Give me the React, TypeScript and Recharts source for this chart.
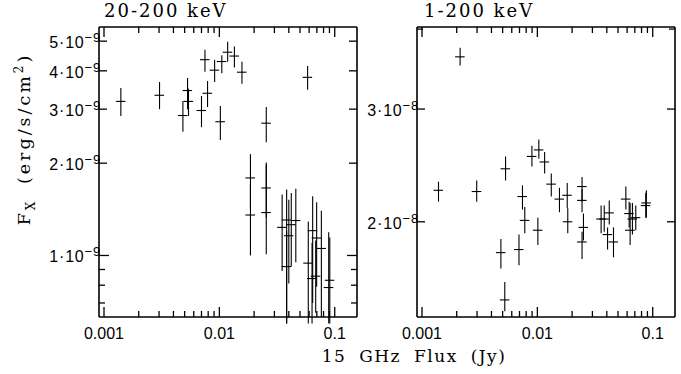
import React from 'react';
import { ScatterChart, Scatter, XAxis, YAxis, ErrorBar } from 'recharts';

// 15 GHz radio flux (Jy) vs 20-200 keV X-ray flux (erg/s/cm2)
const hardRadio = [0.0014, 0.00303, 0.00483, 0.0053, 0.0054, 0.007, 0.0075, 0.0079, 0.0091, 0.0102, 0.0105, 0.0118, 0.0135, 0.0157, 0.0255, 0.0582, 0.0186, 0.0186, 0.0255, 0.0255, 0.035, 0.0383, 0.0383, 0.04, 0.042, 0.046, 0.059, 0.0644, 0.0697, 0.0766, 0.0636, 0.0684, 0.0906, 0.0887];
const hardFx = [3.18e-9, 3.33e-9, 2.86e-9, 3.45e-9, 3.18e-9, 2.97e-9, 4.35e-9, 3.38e-9, 4.02e-9, 2.73e-9, 4.29e-9, 4.6e-9, 4.47e-9, 3.96e-9, 2.7e-9, 3.81e-9, 1.79e-9, 1.355e-9, 1.66e-9, 1.38e-9, 1.235e-9, 1.305e-9, 9.2e-10, 1.16e-9, 1.26e-9, 1.3e-9, 9.44e-10, 1.205e-9, 1.14e-9, 1.054e-9, 8.41e-10, 8.56e-10, 8.3e-10, 7.86e-10];
const hardFxLo = [2.85e-9, 3.0e-9, 2.53e-9, 3.0e-9, 2.85e-9, 2.62e-9, 3.97e-9, 3.05e-9, 3.68e-9, 2.38e-9, 3.93e-9, 4.28e-9, 4.1e-9, 3.63e-9, 2.34e-9, 3.47e-9, 1.44e-9, 1.0e-9, 1.33e-9, 1.01e-9, 8.9e-10, 6.0e-10, 6.0e-10, 8.1e-10, 9.2e-10, 9.5e-10, 6.0e-10, 7.0e-10, 7.9e-10, 6.3e-10, 6.0e-10, 6.5e-10, 6.0e-10, 6.0e-10];
const hardFxHi = [3.52e-9, 3.68e-9, 3.19e-9, 3.79e-9, 3.5e-9, 3.31e-9, 4.69e-9, 3.71e-9, 4.35e-9, 3.07e-9, 4.5e-9, 4.98e-9, 4.8e-9, 4.28e-9, 3.05e-9, 4.15e-9, 2.14e-9, 1.71e-9, 2.01e-9, 1.98e-9, 1.58e-9, 1.64e-9, 1.2e-9, 1.52e-9, 1.6e-9, 1.65e-9, 1.29e-9, 1.56e-9, 1.49e-9, 1.4e-9, 1.1e-9, 1.12e-9, 1.145e-9, 1.19e-9];

// 15 GHz radio flux (Jy) vs 1-200 keV X-ray flux
const softRadio = [0.00139, 0.00214, 0.00298, 0.00483, 0.00522, 0.0053, 0.00693, 0.00743, 0.00778, 0.00897, 0.0101, 0.0103, 0.01156, 0.0132, 0.01555, 0.01815, 0.01835, 0.0244, 0.0244, 0.0251, 0.0244, 0.0357, 0.038, 0.042, 0.0406, 0.0457, 0.0585, 0.0625, 0.0637, 0.0667, 0.0713, 0.087, 0.0881];
const softFx = [2.24e-8, 3.62e-8, 2.23e-8, 1.79e-8, 1.51e-8, 2.42e-8, 1.81e-8, 2.19e-8, 2.01e-8, 2.53e-8, 1.94e-8, 2.59e-8, 2.48e-8, 2.29e-8, 2.17e-8, 2.2e-8, 2.0e-8, 2.27e-8, 2.16e-8, 1.96e-8, 1.86e-8, 2.02e-8, 2.02e-8, 2.065e-8, 1.91e-8, 1.86e-8, 2.17e-8, 2.06e-8, 1.94e-8, 2.02e-8, 2.03e-8, 2.12e-8, 2.14e-8];
const softFxLo = [2.15e-8, 3.51e-8, 2.15e-8, 1.69e-8, 1.45e-8, 2.32e-8, 1.71e-8, 2.09e-8, 1.92e-8, 2.44e-8, 1.84e-8, 2.51e-8, 2.38e-8, 2.19e-8, 2.07e-8, 2.1e-8, 1.92e-8, 2.15e-8, 2.07e-8, 1.87e-8, 1.75e-8, 1.92e-8, 1.93e-8, 1.98e-8, 1.81e-8, 1.76e-8, 2.09e-8, 1.96e-8, 1.84e-8, 1.91e-8, 1.94e-8, 2.03e-8, 2.03e-8];
const softFxHi = [2.31e-8, 3.74e-8, 2.32e-8, 1.88e-8, 1.61e-8, 2.53e-8, 1.91e-8, 2.28e-8, 2.11e-8, 2.63e-8, 2.03e-8, 2.69e-8, 2.57e-8, 2.38e-8, 2.26e-8, 2.3e-8, 2.1e-8, 2.35e-8, 2.25e-8, 2.06e-8, 1.93e-8, 2.12e-8, 2.12e-8, 2.16e-8, 1.96e-8, 1.96e-8, 2.27e-8, 2.15e-8, 2.14e-8, 2.14e-8, 2.12e-8, 2.22e-8, 2.24e-8];

// radio flux error is about +-10% for every source
const X_ERR = 0.095;

const xTicks = [0.001, 0.002, 0.003, 0.004, 0.005, 0.006, 0.007, 0.008, 0.009, 0.01, 0.02, 0.03, 0.04, 0.05, 0.06, 0.07, 0.08, 0.09, 0.1];
const xMajor = [0.001, 0.01, 0.1];
const xLabels = ['0.001', '0.01', '0.1'];

const hardYTicks = [7e-10, 8e-10, 9e-10, 1e-9, 2e-9, 3e-9, 4e-9, 5e-9];
const hardYLabeled = [1e-9, 2e-9, 3e-9, 4e-9, 5e-9];
const softYTicks = [2e-8, 3e-8, 4e-8];
const softYLabeled = [2e-8, 3e-8];

const LABEL_FONT = '"Liberation Sans", Arial, sans-serif';
const TITLE_FONT = '"DejaVu Serif", serif';

const makeRows = (xs: number[], ys: number[], lo: number[], hi: number[]) =>
  xs.map((x, i) => ({
    x,
    y: ys[i],
    ex: [x * X_ERR, x * X_ERR],
    ey: [ys[i] - lo[i], hi[i] - ys[i]],
  }));

const XTick = (props: any) => {
  const { x, y, payload, dir, showLabel } = props;
  const idx = xMajor.indexOf(payload.value);
  const len = idx >= 0 ? 10 : 6;
  return (
    <g>
      <line x1={x} x2={x} y1={y} y2={y - dir * len} stroke="#000" strokeWidth={1.3} />
      {showLabel && idx >= 0 && (
        <text x={x} y={y + 22} textAnchor="middle" fontFamily={LABEL_FONT} fontSize={16} fill="#000">
          {xLabels[idx]}
        </text>
      )}
    </g>
  );
};

// exp is the (positive) power of ten shown as 10^-exp
const YTick = (props: any) => {
  const { x, y, payload, dir, showLabel, labeled, exp } = props;
  const v = payload.value;
  const isLab = labeled.includes(v);
  const isDecade = Math.abs(Math.log10(v) - Math.round(Math.log10(v))) < 1e-6;
  const len = isDecade ? 10 : isLab ? 8 : 6;
  const mant = Math.round(v * Math.pow(10, exp));
  return (
    <g>
      <line x1={x} x2={x + dir * len} y1={y} y2={y} stroke="#000" strokeWidth={1.3} />
      {showLabel && isLab && (
        <text x={x + 2} y={y + 7} textAnchor="end" fontFamily={LABEL_FONT} fontSize={16} fill="#000" letterSpacing={0.8}>
          <tspan>{mant}·10</tspan>
          <tspan dy={-6} fontSize={13}>{'−' + exp}</tspan>
        </text>
      )}
    </g>
  );
};

interface PanelProps {
  rows: any[];
  yDomain: [number, number];
  yTicks: number[];
  yLabeled: number[];
  exp: number;
  yAxisWidth: number;
  width: number;
  rightMargin: number;
}

const Panel: React.FC<PanelProps> = ({ rows, yDomain, yTicks, yLabeled, exp, yAxisWidth, width, rightMargin }) => {
  const xDomain: [number, number] = [0.000905, 0.156];
  const axisLine = { stroke: '#000', strokeWidth: 1.6 };
  return (
    <ScatterChart width={width} height={374} margin={{ top: 26, right: rightMargin - 1, bottom: 17, left: 0 }}>
      <XAxis
        xAxisId="b"
        dataKey="x"
        type="number"
        scale="log"
        domain={xDomain}
        allowDataOverflow
        ticks={xTicks}
        interval={0}
        tickSize={0}
        tickMargin={0}
        height={40}
        axisLine={axisLine}
        tickLine={false}
        tick={(p: any) => <XTick {...p} dir={1} showLabel />}
      />
      <XAxis
        xAxisId="t"
        dataKey="x"
        orientation="top"
        type="number"
        scale="log"
        domain={xDomain}
        allowDataOverflow
        ticks={xTicks}
        interval={0}
        tickSize={0}
        tickMargin={0}
        height={1}
        axisLine={axisLine}
        tickLine={false}
        tick={(p: any) => <XTick {...p} dir={-1} showLabel={false} />}
      />
      <YAxis
        yAxisId="l"
        dataKey="y"
        type="number"
        scale="log"
        domain={yDomain}
        allowDataOverflow
        ticks={yTicks}
        interval={0}
        tickSize={0}
        tickMargin={0}
        width={yAxisWidth}
        axisLine={axisLine}
        tickLine={false}
        tick={(p: any) => <YTick {...p} dir={1} showLabel labeled={yLabeled} exp={exp} />}
      />
      <YAxis
        yAxisId="r"
        dataKey="y"
        orientation="right"
        type="number"
        scale="log"
        domain={yDomain}
        allowDataOverflow
        ticks={yTicks}
        interval={0}
        tickSize={0}
        tickMargin={0}
        width={1}
        axisLine={axisLine}
        tickLine={false}
        tick={(p: any) => <YTick {...p} dir={-1} showLabel={false} labeled={yLabeled} exp={exp} />}
      />
      {/* invisible copy so the top / right frame axes get a scale */}
      <Scatter data={rows} xAxisId="t" yAxisId="r" isAnimationActive={false} shape={() => <g />} />
      <Scatter data={rows} xAxisId="b" yAxisId="l" isAnimationActive={false} shape={() => <g />}>
        <ErrorBar dataKey="ey" direction="y" width={0} stroke="#000" strokeWidth={1.1} isAnimationActive={false} />
        <ErrorBar dataKey="ex" direction="x" width={0} stroke="#000" strokeWidth={1.1} isAnimationActive={false} />
      </Scatter>
    </ScatterChart>
  );
};

const titleStyle: React.CSSProperties = {
  position: 'absolute',
  top: 0,
  fontFamily: TITLE_FONT,
  fontSize: 18,
  letterSpacing: 2,
  whiteSpace: 'pre',
  lineHeight: '22px',
};

export default function App() {
  const hardRows = makeRows(hardRadio, hardFx, hardFxLo, hardFxHi);
  const softRows = makeRows(softRadio, softFx, softFxLo, softFxHi);
  return (
    <div style={{ position: 'absolute', left: 0, top: 0, width: 681, height: 374, background: '#fff', overflow: 'hidden' }}>
      <div style={{ position: 'absolute', left: 0, top: 0 }}>
        <Panel
          rows={hardRows}
          yDomain={[6.3e-10, 5.56e-9]}
          yTicks={hardYTicks}
          yLabeled={hardYLabeled}
          exp={9}
          yAxisWidth={99}
          width={360}
          rightMargin={3}
        />
      </div>
      <div style={{ position: 'absolute', left: 340, top: 0 }}>
        <Panel
          rows={softRows}
          yDomain={[1.42e-8, 4.03e-8]}
          yTicks={softYTicks}
          yLabeled={softYLabeled}
          exp={8}
          yAxisWidth={77}
          width={341}
          rightMargin={6}
        />
      </div>
      <div style={{ ...titleStyle, left: 104 }}>20-200 keV</div>
      <div style={{ ...titleStyle, left: 424 }}>1-200 keV</div>
      <div
        style={{
          position: 'absolute',
          left: 414,
          top: 356,
          transform: 'translate(-50%, -50%)',
          fontFamily: TITLE_FONT,
          fontSize: 17,
          letterSpacing: 1.5,
          wordSpacing: 6,
          whiteSpace: 'pre',
        }}
      >
        15 GHz Flux (Jy)
      </div>
      <div
        style={{
          position: 'absolute',
          left: 25,
          top: 139,
          transform: 'translate(-50%, -50%) rotate(-90deg)',
          fontFamily: TITLE_FONT,
          fontSize: 17.5,
          letterSpacing: 3,
          wordSpacing: 6,
          whiteSpace: 'pre',
        }}
      >
        F<sub style={{ fontSize: 12 }}>X</sub> (erg/s/cm<sup style={{ fontSize: 12 }}>2</sup>)
      </div>
    </div>
  );
}
